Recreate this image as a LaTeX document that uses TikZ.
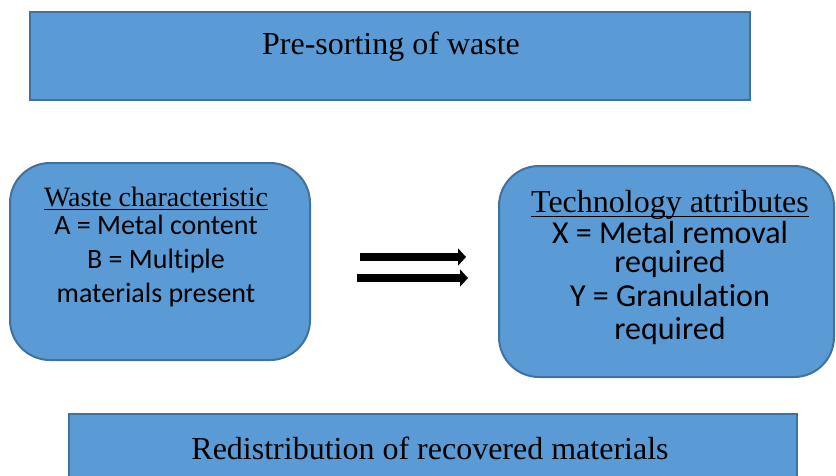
\documentclass[tikz,border=0pt]{standalone}
\usepackage{fontspec}
\setmainfont{Liberation Serif}
\newfontfamily\calibri[Ligatures={NoCommon,NoRare,NoContextual}]{Carlito}
\usepackage{tikz}
\usetikzlibrary{arrows.meta,positioning}
\definecolor{boxblue}{HTML}{5B9BD5}
\definecolor{boxline}{HTML}{41719C}
\newcommand{\uline}[2]{\underline{\raisebox{0pt}[\height][#1]{#2}}}

\begin{document}
\begin{tikzpicture}[x=1pt, y=-1pt]
\tikzstyle{sqbox} = [rectangle, fill=boxblue, draw=boxline, line width=2pt, inner sep=0pt]
\tikzstyle{rdbox} = [sqbox, rounded corners=40pt]
\tikzstyle{title} = [inner sep=0pt, font=\fontsize{32}{38}\selectfont]
\tikzstyle{list} = [inner sep=0pt, align=center]
\useasboundingbox (0,0) rectangle (836,475);
\node[sqbox, minimum width=720pt, minimum height=88pt] (presort) at (390,56) {};
\node[rdbox, minimum width=300pt, minimum height=197pt] (waste) at (160,261.5) {};
\node[rdbox, minimum width=335pt, minimum height=211pt] (tech) at (666.5,271.5) {};
\node[sqbox, minimum width=728pt, minimum height=76pt] (redist) at (433,452) {};
\node[title] (presorttxt) at (391,47) {Pre-sorting of waste};
\node[title] (redisttxt) at (430,448.5) {Redistribution of recovered materials};
\node[list, anchor=north, font=\calibri\fontsize{28}{34}\selectfont] (wastetxt) at (156,187)
	{{\rmfamily\fontsize{28}{34}\selectfont\uline{1pt}{Waste characteristic}}\\[-6pt]
	A = Metal content\\ B = Multiple\\ materials present};
\node[list, anchor=north, font=\calibri\fontsize{32}{33}\selectfont] (techtxt) at (670,190)
	{{\rmfamily\fontsize{32}{33}\selectfont\uline{2pt}{Technology attributes}}\\[-2pt]
	X = Metal removal\\[-4pt] required\\[1pt] Y = Granulation\\ required};
\coordinate (top1) at (360,257);
\coordinate (top2) at (466,257);
\coordinate (bot1) at (357,278);
\coordinate (bot2) at (468,278);
\draw[line width=8pt, -{Triangle[length=8pt, width=17pt]}] (top1) -- (top2);
\draw[line width=8pt, -{Triangle[length=8pt, width=17pt]}] (bot1) -- (bot2);
\end{tikzpicture}
\end{document}
